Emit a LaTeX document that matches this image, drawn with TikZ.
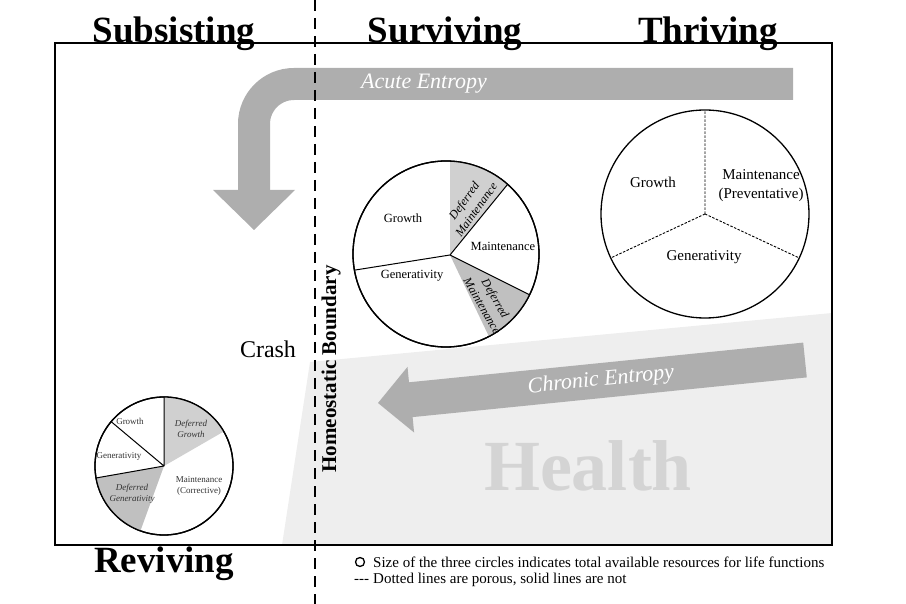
\documentclass[tikz,border=0pt]{standalone}
\usepackage{fontspec}
\setmainfont{Liberation Serif}
\usepackage{xcolor}
\usepackage{tikz}
\usetikzlibrary{positioning}

\definecolor{bandgray}{RGB}{174,174,174}
\definecolor{healthgray}{RGB}{238,238,238}
\definecolor{wordgray}{RGB}{212,212,212}
\definecolor{lightdefer}{RGB}{208,208,208}
\definecolor{darkdefer}{RGB}{192,192,192}
\newcommand{\fsz}[2]{\fontsize{#1}{#2}\selectfont}

\begin{document}
\begin{tikzpicture}[
	x=1pt, y=-1pt,
	every node/.style = {inner sep=0pt, align=center},
	stagetitle/.style = {font=\fsz{37}{40}\bfseries, anchor=base},
	thrlabel/.style = {font=\fsz{15}{19}},
	survlabel/.style = {font=\fsz{12.5}{14}},
	survdefer/.style = {font=\fsz{12}{15}\itshape},
	revlabel/.style = {font=\fsz{9}{11}, text=black!80},
	revdefer/.style = {font=\fsz{9}{11}\itshape, text=black!80},
	entropy/.style = {font=\fsz{22}{24}\itshape, text=white},
	piecircle/.style = {draw, fill=white, line width=1.3pt},
	solidcut/.style = {line width=1pt},
	porouscut/.style = {line width=0.9pt, dash pattern=on 2.5pt off 1.5pt},
	legendtext/.style = {font=\fsz{15}{17}, anchor=base west}
]
\useasboundingbox (0,0) rectangle (906,604);
\fill[healthgray] (310,362) -- (832,313) -- (832,545) -- (282,545) -- cycle;
\draw[line width=1.2pt] (55,43) rectangle (832,545);
\draw[line width=2pt] (832,43) -- (832,545) -- (55,545);

\draw[bandgray, line width=32pt, rounded corners=40pt] (793,84) -- (254,84) -- (254,191);
\fill[bandgray] (213,190) -- (295,190) -- (254,230) -- cycle;
\node[entropy] (acute) at (424,84) {Acute Entropy};

\fill[bandgray] (803.2,342.6) -- (409.0,382.3) -- (407.5,366.9) -- (378,403)
	-- (414.1,432.5) -- (412.6,417.1) -- (806.8,377.4) -- cycle;
\node[entropy, rotate=5.75] (chronic) at (601,380.5) {Chronic Entropy};
\node[font=\fsz{72}{80}\bfseries, text=wordgray, anchor=base] (health) at (588,490) {Health};

\draw[line width=2.4pt, dash pattern=on 11pt off 7pt] (315,0) -- (315,604);

\coordinate (thr) at (705,214);
\draw[piecircle] (thr) circle[radius=104];
\draw[porouscut] (thr) -- ++(-90:104) (thr) -- ++(155:104) (thr) -- ++(25:104);
\node[thrlabel] (thrgrowth) at (653,182) {Growth};
\node[thrlabel] (thrmaint) at (761,186) {Maintenance\\(Preventative)};
\node[thrlabel] (thrgen) at (704,257) {Generativity};

\coordinate (surv) at (446,254);
\coordinate (survmid) at (450,255);
\draw[piecircle] (surv) circle[radius=93];
\fill[lightdefer] (survmid) -- ([shift={(-87.5:93)}]surv) arc[start angle=-87.5, end angle=-48.5, radius=93] -- cycle;
\fill[darkdefer] (survmid) -- ([shift={(26:93)}]surv) arc[start angle=26, end angle=62.5, radius=93] -- cycle;
\draw[line width=1.3pt] (surv) circle[radius=93];
\draw[solidcut] (survmid) -- ([shift={(170:93)}]surv) (survmid) -- ([shift={(-48.5:93)}]surv)
	(survmid) -- ([shift={(26:93)}]surv);
\node[survlabel] (survgrowth) at (403,218) {Growth};
\node[survlabel] (survgen) at (412,276) {Generativity};
\node[survlabel] (survmaint) at (503,246) {Maintenance};
\node[survdefer, rotate=54] (survdefera) at (470,205) {Deferred\\Maintenance};
\node[survdefer, rotate=-60] (survdeferb) at (489,302) {Deferred\\Maintenance};

\coordinate (rev) at (164,466);
\draw[piecircle] (rev) circle[radius=69];
\fill[lightdefer] (rev) -- ++(-90:69) arc[start angle=-90, end angle=-30, radius=69] -- cycle;
\fill[darkdefer] (rev) -- ++(110:69) arc[start angle=110, end angle=170, radius=69] -- cycle;
\draw[line width=1.3pt] (rev) circle[radius=69];
\draw[solidcut] (rev) -- ++(-90:69) (rev) -- ++(-140:69) (rev) -- ++(170:69);
\node[revlabel] (revgrowth) at (130,421) {Growth};
\node[revdefer] (revdefera) at (191,429) {Deferred\\Growth};
\node[revlabel] (revgen) at (119,456) {Generativity};
\node[revlabel] (revmaint) at (199,486) {Maintenance\\(Corrective)};
\node[revdefer] (revdeferb) at (132,494) {Deferred\\Generativity};

\node[font=\fsz{24}{26}] (crash) at (268,349) {Crash};
\node[font=\fsz{21}{23}\bfseries, rotate=90] (boundary) at (331,369) {Homeostatic Boundary};

\node[stagetitle] (subsisting) at (174,43) {Subsisting};
\node[stagetitle] (surviving) at (445,43) {Surviving};
\node[stagetitle] (thriving) at (708,43) {Thriving};
\node[stagetitle] (reviving) at (164,572) {Reviving};

\node[draw, circle, line width=1.3pt, minimum size=9pt] (legcircle) at (360,562) {};
\node[legendtext] (legsize) at (373,567) {Size of the three circles indicates total available resources for life functions};
\node[legendtext] (legdash) at (354,583) {-{}-{}-};
\node[legendtext] (legporous) at (373,583) {Dotted lines are porous, solid lines are not};
\end{tikzpicture}
\end{document}
